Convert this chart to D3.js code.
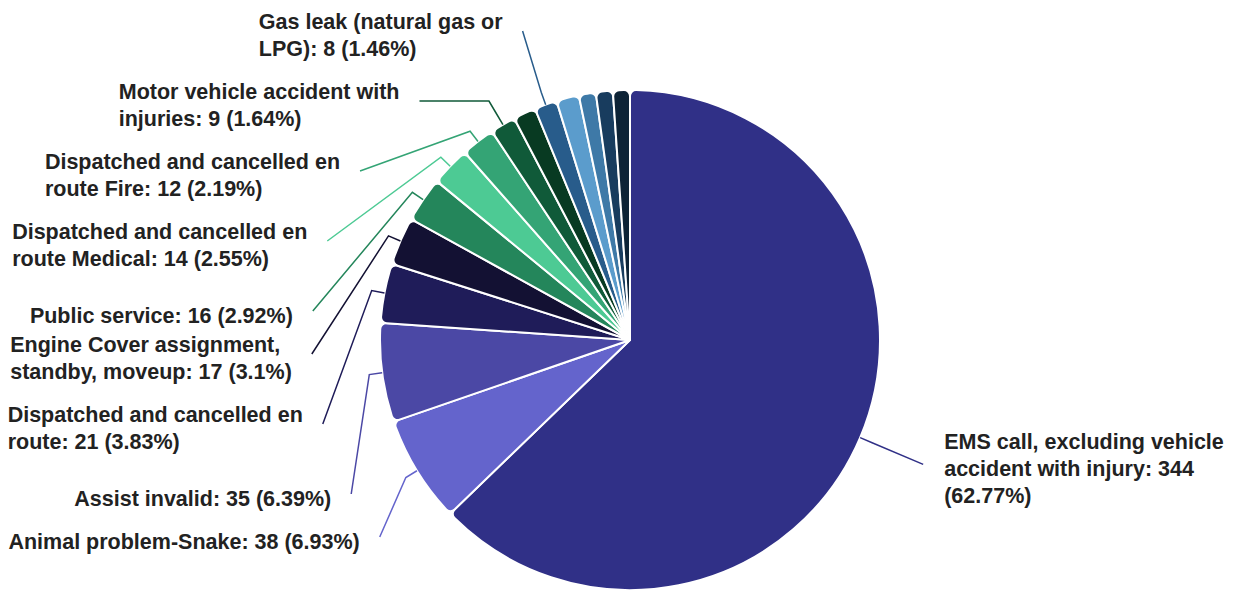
<!DOCTYPE html>
<html><head><meta charset="utf-8">
<script src="https://cdn.jsdelivr.net/npm/d3@7"></script>
<style>body{margin:0;background:#fff} svg{display:block}</style>
</head><body><svg id="chart" width="1234" height="590"></svg>
<script>
// ---- data ----
const categories = [
  "EMS call, excluding vehicle accident with injury",
  "Animal problem-Snake",
  "Assist invalid",
  "Dispatched and cancelled en route",
  "Engine Cover assignment, standby, moveup",
  "Public service",
  "Dispatched and cancelled en route Medical",
  "Dispatched and cancelled en route Fire",
  "Motor vehicle accident with injuries",
  "Other (unlabelled) A",
  "Gas leak (natural gas or LPG)",
  "Other (unlabelled) B",
  "Other (unlabelled) C",
  "Other (unlabelled) D",
  "Other (unlabelled) E"
];
const values = [344, 38, 35, 21, 17, 16, 14, 12, 9, 8, 8, 8, 6, 6, 6];
const colors = ["#303087", "#6464cc", "#4b48a5", "#1f1c59", "#131133", "#24865b", "#4dca94",
                "#34a475", "#105a39", "#083a22", "#285c8b", "#5b9ccc", "#3e79a7", "#183c5e", "#0d2336"];
const showLabel = [true, true, true, true, true, true, true, true, true, false, true, false, false, false, false];
// words per wrapped label line
const lineWords = [[4,4,1],[4],[4],[4,3],[3,4],[4],[4,4],[4,4],[4,3],null,[5,3],null,null,null,null];

// ---- layout ----
const W = 1234, H = 590, cx = 630, cy = 340, r = 250, labelR = 318.5;
const lineH = 27, fontSize = 21.5, connOff = 31;
const svg = d3.select("#chart");
const total = d3.sum(values);
const data = categories.map((c, i) => ({name: c, value: values[i], color: colors[i], show: showLabel[i], words: lineWords[i]}));
const pie = d3.pie().sort(null).value(d => d.value).startAngle(0).endAngle(2 * Math.PI);
const arcs = pie(data);
const arc = d3.arc().innerRadius(0).outerRadius(r).cornerRadius(6);

const g = svg.append("g").attr("transform", `translate(${cx},${cy})`);
g.selectAll("path.slice").data(arcs).join("path")
  .attr("class", "slice")
  .attr("d", arc)
  .attr("fill", d => d.data.color)
  .attr("stroke", "#fff").attr("stroke-width", 2).attr("stroke-linejoin", "round");

// label items
const pct = v => +(v / total * 100).toFixed(2);
const items = arcs.filter(a => a.data.show).map(a => {
  const mid = (a.startAngle + a.endAngle) / 2;
  const dir = [Math.sin(mid), -Math.cos(mid)];
  const text = `${a.data.name}: ${a.data.value} (${pct(a.data.value)}%)`;
  const words = text.split(" ");
  const lines = []; let k = 0;
  a.data.words.forEach(n => { lines.push(words.slice(k, k + n).join(" ")); k += n; });
  return {a, mid, dir, lines, left: mid > Math.PI, naturalY: cy + labelR * dir[1],
          size: lines.length * lineH + 16};
});

function distribute(list, maxLen) {
  list.sort((p, q) => p.naturalY - q.naturalY);
  let groups = list.map(it => ({items: [it], size: it.size, targets: [it.naturalY]}));
  let solved = false, guard = 0;
  while (!solved && guard++ < 100) {
    groups.forEach(gr => {
      let pos;
      if (gr.items.length === 1) pos = gr.targets[0] - connOff;
      else pos = (d3.min(gr.targets) + d3.max(gr.targets)) / 2 - gr.size / 2;
      gr.pos = Math.max(0, Math.min(maxLen - gr.size, pos));
    });
    solved = true;
    for (let i = groups.length - 1; i > 0; i--) {
      const p = groups[i - 1], q = groups[i];
      if (p.pos + p.size > q.pos) {
        p.items = p.items.concat(q.items);
        p.size += q.size;
        p.targets = p.targets.concat(q.targets);
        groups.splice(i, 1);
        solved = false;
      }
    }
  }
  groups.forEach(gr => {
    let off = 0;
    gr.items.forEach(it => { it.connY = gr.pos + off + connOff; off += it.size; });
  });
}
distribute(items.filter(d => d.left), H);
distribute(items.filter(d => !d.left), H);

const labelsG = svg.append("g");
items.forEach(it => {
  const side = it.left ? -1 : 1;
  const yForX = (it.connY < cy && it.connY < it.naturalY) ? it.naturalY : it.connY;
  const dy = yForX - cy;
  const connX = cx + side * Math.sqrt(Math.max(0, labelR * labelR - dy * dy));
  const touch = [cx + r * it.dir[0], cy + r * it.dir[1]];
  const brk = [cx + (r + 13) * it.dir[0], cy + (r + 13) * it.dir[1]];
  const pts = [[connX, it.connY]];
  if (Math.abs(it.dir[1]) > 1e-6) {
    const t = (it.connY - cy) / it.dir[1];
    const crookX = cx + t * it.dir[0];
    if (t > 0 && crookX > Math.min(connX, brk[0]) && crookX < Math.max(connX, brk[0])) pts.push([crookX, it.connY]);
  }
  pts.push(brk, touch);
  labelsG.append("path")
    .attr("d", d3.line()(pts))
    .attr("fill", "none").attr("stroke", it.a.data.color).attr("stroke-width", 1.5);

  const t = labelsG.append("text")
    .attr("font-family", "'Liberation Sans', Arial, sans-serif")
    .attr("font-weight", "bold").attr("font-size", fontSize).attr("fill", "#222");
  const n = it.lines.length;
  const tsp = it.lines.map((ln, k) => t.append("tspan")
    .attr("y", it.connY + 4 - (n - 1) * lineH / 2 + k * lineH + 7.5).text(ln));
  const maxW = d3.max(tsp, s => s.node().getComputedTextLength());
  const x0 = it.left ? connX - 20 - maxW : connX + 21;
  tsp.forEach(s => s.attr("x", x0));
});
</script>
</body></html>
